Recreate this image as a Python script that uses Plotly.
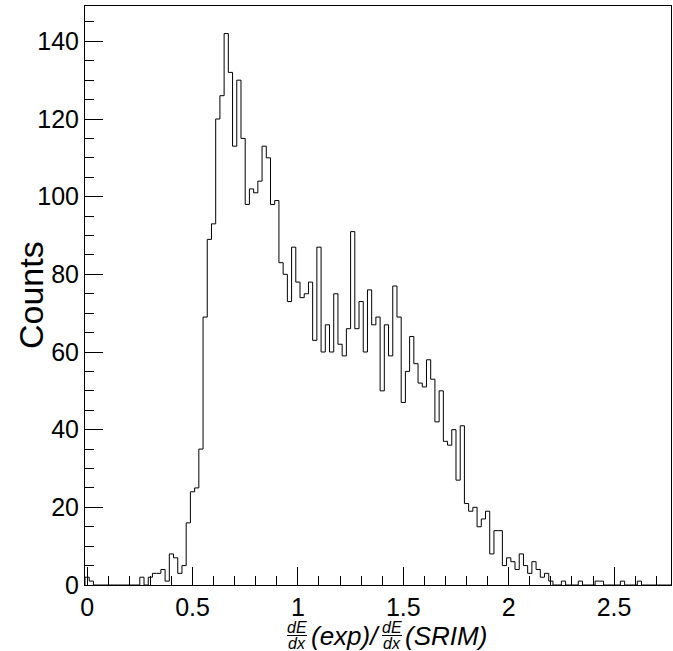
import plotly.graph_objects as go

# Histogram: bin centers every 0.02 starting at 0 (bins are [c-0.01, c+0.01])
bin_width = 0.02
n_bins = 139
bin_centers = [round(i * bin_width, 4) for i in range(n_bins)]

counts = [
    2, 1, 0, 0, 0, 0, 0, 0, 0, 0,          # 0.00 - 0.18
    0, 0, 0, 2, 0, 2, 3, 3, 4, 1,          # 0.20 - 0.38
    8, 7, 3, 5, 16, 24, 25, 35, 69, 89,    # 0.40 - 0.58
    93, 120, 126, 142, 132, 113, 130, 115, 98, 102,   # 0.60 - 0.78
    101, 104, 113, 110, 98, 99, 83, 80, 73, 87,       # 0.80 - 0.98
    78, 74, 75, 78, 63, 87, 60, 67, 60, 75,           # 1.00 - 1.18
    62, 59, 66, 91, 66, 73, 60, 76, 67, 69,           # 1.20 - 1.38
    50, 67, 59, 77, 69, 47, 55, 64, 57, 52,           # 1.40 - 1.58
    51, 58, 53, 42, 50, 37, 36, 40, 27, 41,           # 1.60 - 1.78
    21, 19, 20, 15, 17, 19, 8, 14, 14, 5,             # 1.80 - 1.98
    7, 6, 4, 8, 5, 3, 6, 4, 2, 3,                     # 2.00 - 2.18
    1, 0, 0, 1, 0, 0, 0, 1, 0, 0,                     # 2.20 - 2.38
    0, 1, 1, 0, 0, 0, 0, 1, 0, 0,                     # 2.40 - 2.58
    0, 1, 0, 0, 0, 0, 0, 0, 0,                        # 2.60 - 2.76
]

x_ticks = [0, 0.5, 1, 1.5, 2, 2.5]
x_tick_labels = ["0", "0.5", "1", "1.5", "2", "2.5"]
y_ticks = [0, 20, 40, 60, 80, 100, 120, 140]
y_tick_labels = ["0", "20", "40", "60", "80", "100", "120", "140"]

y_title = "Counts"

# step outline built from bin edges
edges = [c - bin_width / 2 for c in bin_centers] + [bin_centers[-1] + bin_width / 2]
xs = [edges[0]] + edges
ys = [0] + counts + [counts[-1]]

fig = go.Figure()
fig.add_trace(go.Scatter(
    x=xs, y=ys, mode="lines", line=dict(shape="hv", color="black", width=1),
    hoverinfo="skip", showlegend=False,
))

FONT = "Liberation Sans, Arial, Helvetica, sans-serif"

W, H = 673, 651
L, R, T, B = 85, 2, 6, 66
PW = W - L - R
PH = H - T - B


def px_to_paper_x(px):
    return (px - L) / PW


def py_to_paper_y(py):
    return (H - B - py) / PH


TICK_SIZE = 25

fig.update_layout(
    width=W, height=H,
    margin=dict(l=L, r=R, t=T, b=B, autoexpand=False),
    paper_bgcolor="white", plot_bgcolor="white",
    font=dict(family=FONT, color="black", size=TICK_SIZE),
    xaxis=dict(
        range=[-0.01, 2.77], showgrid=False, zeroline=False,
        showline=True, linecolor="black", linewidth=1, mirror=True,
        ticks="inside", ticklen=18, tickwidth=1, tickcolor="black",
        tickvals=x_ticks, ticktext=x_tick_labels,
        tickfont=dict(size=TICK_SIZE, family=FONT),
        minor=dict(ticks="inside", ticklen=9, tickwidth=1, tickcolor="black", dtick=0.1, tick0=0),
    ),
    yaxis=dict(
        range=[0, 149.1], showgrid=False, zeroline=False,
        showline=True, linecolor="black", linewidth=1, mirror=True,
        ticks="inside", ticklen=18, tickwidth=1, tickcolor="black",
        tickvals=y_ticks, ticktext=y_tick_labels,
        tickfont=dict(size=TICK_SIZE, family=FONT),
        minor=dict(ticks="inside", ticklen=9, tickwidth=1, tickcolor="black", dtick=5, tick0=0),
    ),
)

# y title
fig.add_annotation(
    text=y_title, xref="paper", yref="paper",
    x=px_to_paper_x(31), y=py_to_paper_y(295), textangle=-90,
    showarrow=False, xanchor="center", yanchor="middle",
    font=dict(size=34, family=FONT),
)

# x title: dE/dx (exp) / dE/dx (SRIM)
frac_size = 16
main_size = 26


def add_fraction(cx):
    fig.add_annotation(text="<i>dE</i>", xref="paper", yref="paper",
                       x=px_to_paper_x(cx), y=py_to_paper_y(627), showarrow=False,
                       xanchor="center", yanchor="middle", font=dict(size=frac_size, family=FONT))
    fig.add_annotation(text="<i>dx</i>", xref="paper", yref="paper",
                       x=px_to_paper_x(cx), y=py_to_paper_y(643), showarrow=False,
                       xanchor="center", yanchor="middle", font=dict(size=frac_size, family=FONT))
    fig.add_shape(type="line", xref="paper", yref="paper",
                  x0=px_to_paper_x(cx - 10), x1=px_to_paper_x(cx + 10),
                  y0=py_to_paper_y(635.5), y1=py_to_paper_y(635.5),
                  line=dict(color="black", width=1))


add_fraction(297)
fig.add_annotation(text="<i>(exp)/</i>", xref="paper", yref="paper",
                   x=px_to_paper_x(309), y=py_to_paper_y(636), showarrow=False,
                   xanchor="left", yanchor="middle", font=dict(size=main_size, family=FONT))
add_fraction(392)
fig.add_annotation(text="<i>(SRIM)</i>", xref="paper", yref="paper",
                   x=px_to_paper_x(403), y=py_to_paper_y(636), showarrow=False,
                   xanchor="left", yanchor="middle", font=dict(size=main_size, family=FONT))

fig.write_html(
    "out.html",
    config={"displayModeBar": False, "staticPlot": True},
    post_script="document.body.style.margin='0';document.body.style.padding='0';",
)
